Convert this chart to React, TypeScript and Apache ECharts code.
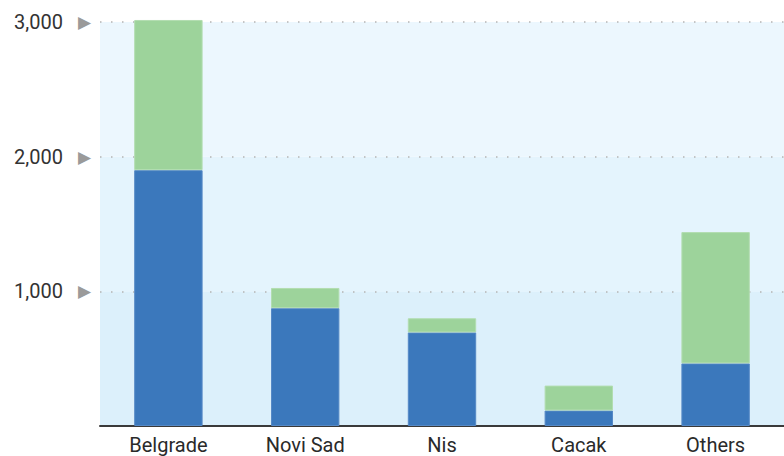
import React, { useEffect, useRef } from "react";
import * as echarts from "echarts";

const categories = ["Belgrade", "Novi Sad", "Nis", "Cacak", "Others"];
const blueValues = [1900, 875, 695, 115, 465];
const greenValues = [1115, 150, 105, 185, 975];
const yTicks = [0, 1000, 2000, 3000];

export default function App() {
  const ref = useRef<HTMLDivElement>(null);
  useEffect(() => {
    document.body.style.margin = "0";
    document.body.style.overflow = "hidden";
    const chart = echarts.init(ref.current!, undefined, { renderer: "svg" });
    chart.setOption({
      animation: false,
      backgroundColor: "#ffffff",
      grid: { left: 100, top: 22, right: -1, bottom: 30, containLabel: false },
      xAxis: {
        type: "category",
        data: categories,
        axisLine: { show: true, lineStyle: { color: "#3a3a3a", width: 2 } },
        axisTick: { show: false },
        axisLabel: {
          color: "#2a2a2a",
          fontFamily: "Roboto",
          fontSize: 20,
          lineHeight: 20,
          margin: 9,
        },
      },
      yAxis: {
        type: "value",
        min: yTicks[0],
        max: yTicks[yTicks.length - 1],
        interval: 1000,
        axisLine: { show: false },
        axisTick: { show: false },
        splitLine: {
          show: true,
          lineStyle: { color: "#b4b4b4", width: 1.5, type: [1.5, 9.5] },
        },
        splitArea: {
          show: true,
          areaStyle: { color: ["#dcf0fb", "#e4f4fd", "#ecf7fe"] },
        },
        axisLabel: {
          margin: 9,
          formatter: (v: number) =>
            v === 0 ? "" : `{n|${v.toLocaleString("en-US")}}{t|▶}`,
          rich: {
            n: {
              color: "#333333",
              fontFamily: "Roboto",
              fontSize: 20,
              padding: [0, 15, 0, 0],
            },
            t: {
              color: "#9a9a9a",
              fontFamily: "DejaVu Sans",
              fontSize: 17,
            },
          },
        },
      },
      series: [
        {
          type: "bar",
          stack: "total",
          data: blueValues,
          barWidth: "50%",
          clip: false,
          itemStyle: {
            color: "#3b78bc",
            borderColor: "#5689c6",
            borderWidth: 1,
          },
        },
        {
          type: "bar",
          stack: "total",
          data: greenValues,
          barWidth: "50%",
          clip: false,
          itemStyle: {
            color: "#9dd39b",
            borderColor: "#b2ddb0",
            borderWidth: 1,
          },
        },
      ],
    });
    return () => chart.dispose();
  }, []);
  return (
    <div
      ref={ref}
      style={{
        position: "absolute",
        left: 0,
        top: 0,
        width: 784,
        height: 456,
        overflow: "hidden",
      }}
    />
  );
}
